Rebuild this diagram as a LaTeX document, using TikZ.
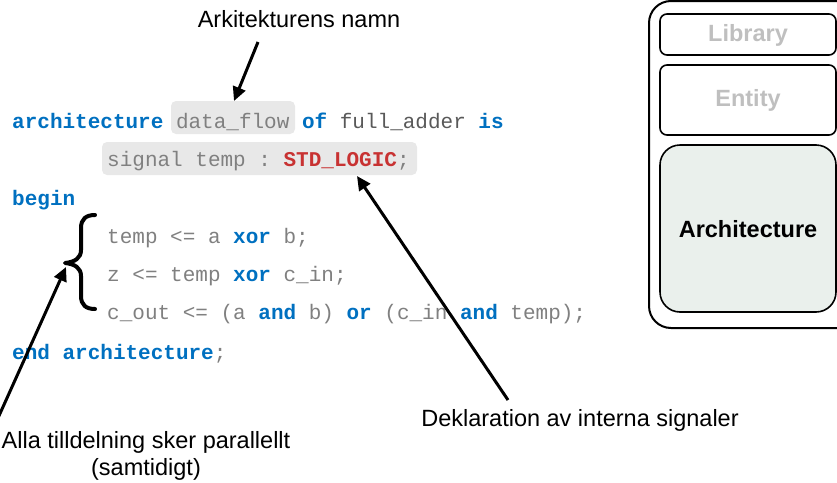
\documentclass[tikz,border=0pt]{standalone}
\usepackage{fontspec}
\setmainfont{Liberation Sans}
\setmonofont{Liberation Mono}
\usetikzlibrary{arrows.meta}

\definecolor{kwblue}{RGB}{0,112,192}
\definecolor{codegray}{RGB}{128,128,128}
\definecolor{codedark}{RGB}{89,89,89}
\definecolor{typered}{RGB}{200,50,50}
\definecolor{hlgray}{RGB}{232,232,232}
\definecolor{archfill}{RGB}{234,240,236}
\definecolor{dimtext}{RGB}{191,191,191}

\newcommand\vkw[1]{\textcolor{kwblue}{\textbf{#1}}}
\newcommand\vtype[1]{\textcolor{typered}{\textbf{#1}}}

\begin{document}
\begin{tikzpicture}[x=1pt,y=-1pt,
  code/.style={anchor=base west, inner sep=0pt, text=codegray,
    font=\ttfamily\fontsize{21}{21}\selectfont},
  note/.style={inner sep=0pt, align=center, text=black,
    font=\fontsize{23.5}{27}\selectfont},
  hlbox/.style={fill=hlgray, draw=none, rounded corners=5pt},
  pointer/.style={line width=3pt, -{Triangle[length=14pt,width=13pt]}},
  part/.style={draw=black, line width=1.6pt, rounded corners=7pt},
  parttext/.style={font=\bfseries\fontsize{23.5}{27}\selectfont}]

\clip (0,0) rectangle (837,482);

% highlighted code fragments
\fill[hlbox] (171,101) rectangle (295,134);
\fill[hlbox] (102,142) rectangle (417,175);

% VHDL source
\node[code] (l1) at (12,128) {\vkw{architecture} data\_flow \vkw{of} \textcolor{codedark}{full\_adder} \vkw{is}};
\node[code] (l2) at (107,166) {signal temp : \vtype{STD\_LOGIC};};
\node[code] (l3) at (12,205) {\vkw{begin}};
\node[code] (l4) at (107,243) {temp <= a \vkw{xor} b;};
\node[code] (l5) at (107,281) {z <= temp \vkw{xor} c\_in;};
\node[code] (l6) at (107,319) {c\_out <= (a \vkw{and} b) \vkw{or} (c\_in \vkw{and} temp);};
\node[code] (l7) at (12,359) {\vkw{end} \vkw{architecture};};

% curly brace grouping the concurrent assignments
\draw[line width=4pt, line cap=round, line join=round]
  (95,215) .. controls (86,215) and (81,219) .. (81,228) -- (81,250)
  .. controls (81,258) and (75,262) .. (65,263)
  .. controls (75,264) and (81,268) .. (81,276) -- (81,296)
  .. controls (81,305) and (86,309) .. (95,309);

% annotations
\node[note] (nname) at (299,19) {Arkitekturens namn};
\node[note] (nsig) at (580,420) {Deklaration av interna signaler};
\node[note] (npar) at (146,456) {Alla tilldelning sker parallellt\\(samtidigt)};

\coordinate (nameFrom) at (258,42);
\coordinate (nameTip) at (234,101);
\coordinate (sigFrom) at (508,400);
\coordinate (sigTip) at (357,176);
\coordinate (parFrom) at (-2,418);
\coordinate (parTip) at (66,267);

\draw[pointer] (nameFrom) -- (nameTip);
\draw[pointer] (sigFrom) -- (sigTip);
\draw[pointer] (parFrom) -- (parTip);

% design unit structure
\draw[line width=2pt, rounded corners=22pt] (649,1) rectangle (860,328);
\draw[part] (660,14) rectangle (836,55);
\draw[part] (660,65) rectangle (836,135);
\draw[part, fill=archfill, rounded corners=20pt] (660,145) rectangle (836,312);
\node[parttext, text=dimtext] (lib) at (748,35) {Library};
\node[parttext, text=dimtext] (ent) at (748,100) {Entity};
\node[parttext, text=black] (arch) at (748,229) {Architecture};

\end{tikzpicture}
\end{document}
